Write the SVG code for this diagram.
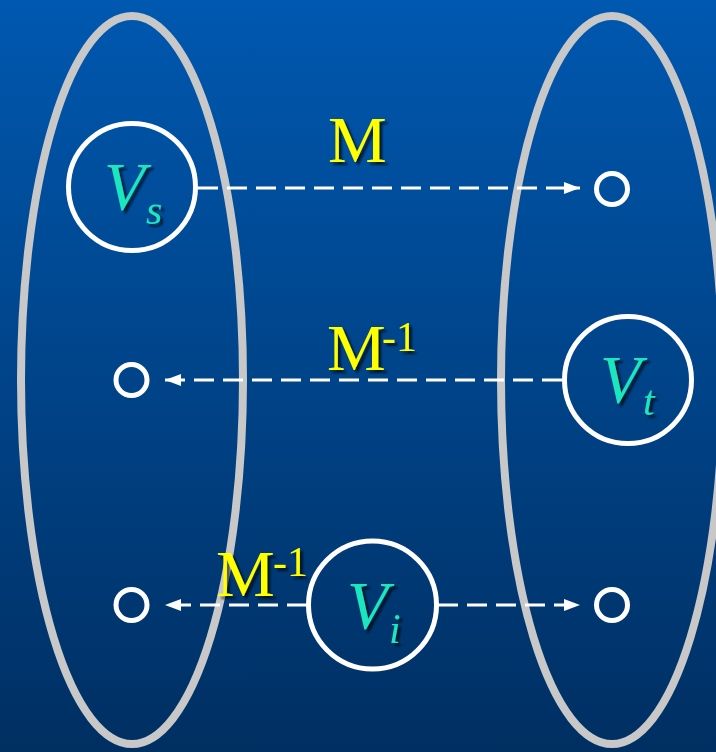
<svg xmlns="http://www.w3.org/2000/svg" width="716" height="752" viewBox="0 0 716 752">
  <defs>
    <linearGradient id="bg" x1="0" y1="0" x2="0" y2="1">
      <stop offset="0" stop-color="#0058B0"/>
      <stop offset="1" stop-color="#002F62"/>
    </linearGradient>
    <filter id="shadow" x="-20%" y="-20%" width="150%" height="150%">
      <feDropShadow dx="3" dy="3" stdDeviation="1.2" flood-color="#000000" flood-opacity="0.65"/>
    </filter>
    <marker id="arrow" viewBox="0 0 16 12" refX="16" refY="6" markerWidth="16" markerHeight="12" markerUnits="userSpaceOnUse" orient="auto">
      <path d="M0,0 L16,6 L0,12 Z" fill="#FFFFFF"/>
    </marker>
    <style>
      .set { fill: none; stroke: #C8C8C8; stroke-width: 8; }
      .big { fill: none; stroke: #FFFFFF; stroke-width: 5; }
      .small { fill: none; stroke: #FFFFFF; stroke-width: 5; }
      .edge { fill: none; stroke: #FFFFFF; stroke-width: 3; stroke-dasharray: 20 9; }
      .lbl { font-family: "Liberation Serif", "Times New Roman", serif; fill: #FFFF00; filter: url(#shadow); }
      .var { font-family: "Liberation Serif", "Times New Roman", serif; font-style: italic; fill: #1AE6C0; filter: url(#shadow); }
    </style>
  </defs>
  <rect x="0" y="0" width="716" height="752" fill="url(#bg)"/>

  <g id="set-left"><ellipse class="set" cx="132" cy="380" rx="111" ry="364"/></g>
  <g id="set-right"><ellipse class="set" cx="612" cy="380" rx="111" ry="364"/></g>

  <g id="connectors">
    <line class="edge" x1="198" y1="188" x2="580" y2="188" marker-end="url(#arrow)"/>
    <line class="edge" x1="562" y1="380" x2="165" y2="380" marker-end="url(#arrow)"/>
    <line class="edge" x1="307" y1="605" x2="165" y2="605" marker-end="url(#arrow)"/>
    <line class="edge" x1="438" y1="605" x2="580" y2="605" marker-end="url(#arrow)"/>
  </g>

  <g id="node-vs">
    <circle class="big" cx="132" cy="187" r="63.5"/>
    <text class="var" x="104" y="209" font-size="67">V</text>
    <text class="var" x="146" y="224" font-size="42">s</text>
  </g>
  <g id="node-vt">
    <circle class="big" cx="628" cy="380" r="63.5"/>
    <text class="var" x="600" y="402" font-size="67">V</text>
    <text class="var" x="643" y="415" font-size="42">t</text>
  </g>
  <g id="node-vi">
    <circle class="big" cx="372.5" cy="605" r="64"/>
    <text class="var" x="347" y="628" font-size="67">V</text>
    <text class="var" x="389" y="643" font-size="42">i</text>
  </g>

  <g id="node-t1"><circle class="small" cx="612" cy="189" r="15.5"/></g>
  <g id="node-s2"><circle class="small" cx="131.5" cy="380" r="15.5"/></g>
  <g id="node-s3"><circle class="small" cx="131.5" cy="605" r="15.5"/></g>
  <g id="node-t3"><circle class="small" cx="612" cy="605" r="15.5"/></g>

  <g id="labels">
    <text class="lbl" x="328" y="162" font-size="66">M</text>
    <text class="lbl" x="327" y="370" font-size="66">M</text>
    <text class="lbl" x="382" y="351" font-size="42">-1</text>
    <text class="lbl" x="216" y="596" font-size="66">M</text>
    <text class="lbl" x="273" y="576" font-size="42">-1</text>
  </g>
</svg>
